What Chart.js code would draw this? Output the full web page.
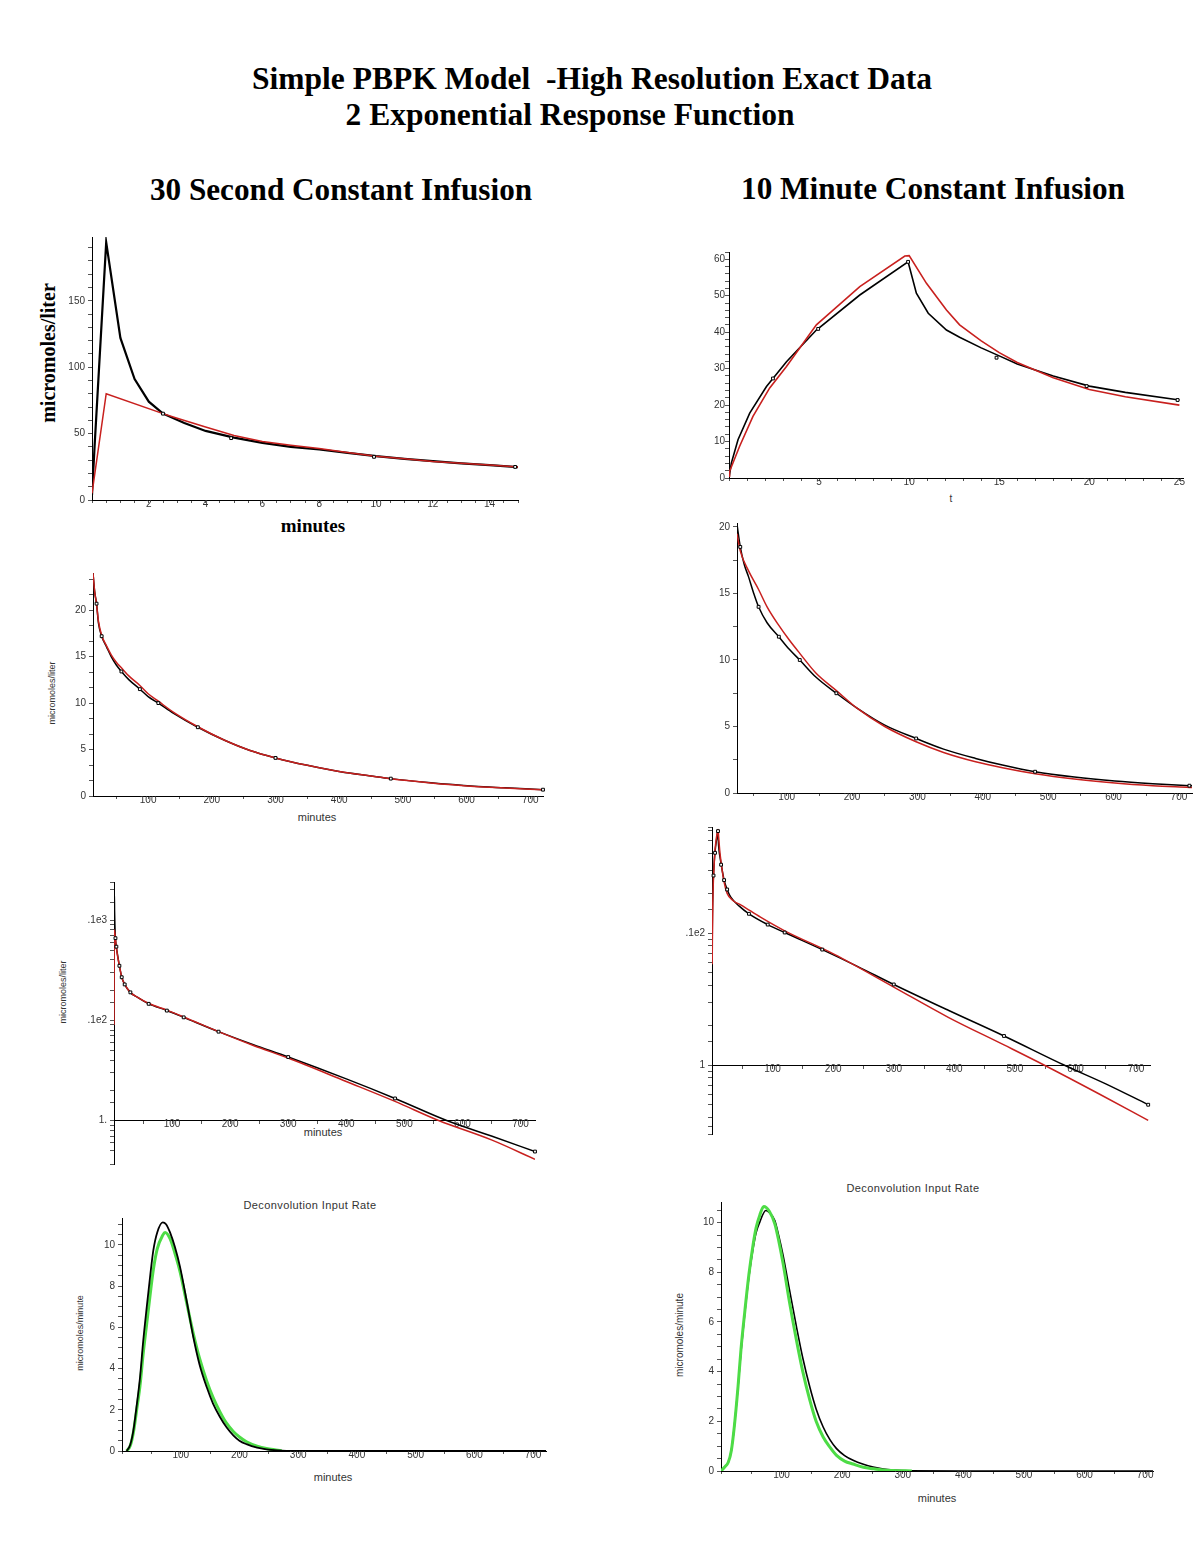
<!DOCTYPE html>
<html><head><meta charset="utf-8">
<script src="https://cdn.jsdelivr.net/npm/chart.js@4/dist/chart.umd.min.js"></script>
<style>
html,body{margin:0;padding:0;background:#fff;width:1197px;height:1549px;overflow:hidden;position:relative;}
.t{position:absolute;white-space:pre;color:#000;font-family:"Liberation Serif","Times New Roman",serif;font-weight:bold;transform:translate(-50%,-50%);line-height:1;}
.s{position:absolute;white-space:pre;color:#333;font-family:"Liberation Sans",Arial,sans-serif;transform:translate(-50%,-50%);line-height:1;}
.r{transform:translate(-50%,-50%) rotate(-90deg);}
canvas{position:absolute;}
</style></head><body>
<div class="t" style="left:592px;top:79px;font-size:31.5px">Simple PBPK Model  -High Resolution Exact Data</div>
<div class="t" style="left:570px;top:115px;font-size:31.5px">2 Exponential Response Function</div>
<div class="t" style="left:341px;top:190px;font-size:31.2px">30 Second Constant Infusion</div>
<div class="t" style="left:933px;top:189px;font-size:31.2px">10 Minute Constant Infusion</div>
<div class="t r" style="left:48px;top:353px;font-size:20px">micromoles/liter</div>
<div class="t" style="left:313px;top:525px;font-size:19px">minutes</div>
<div class="s" style="left:951px;top:499px;font-size:10px">t</div>
<div class="s r" style="left:52px;top:693px;font-size:9px">micromoles/liter</div>
<div class="s" style="left:317px;top:817px;font-size:11px">minutes</div>
<div class="s r" style="left:63px;top:992px;font-size:9px">micromoles/liter</div>
<div class="s" style="left:323px;top:1132px;font-size:11px">minutes</div>
<div class="s" style="left:310px;top:1205px;font-size:11px;letter-spacing:0.4px">Deconvolution Input Rate</div>
<div class="s r" style="left:80px;top:1333px;font-size:9px">micromoles/minute</div>
<div class="s" style="left:333px;top:1477px;font-size:11px">minutes</div>
<div class="s" style="left:913px;top:1188px;font-size:11px;letter-spacing:0.4px">Deconvolution Input Rate</div>
<div class="s r" style="left:680px;top:1335px;font-size:10px">micromoles/minute</div>
<div class="s" style="left:937px;top:1498px;font-size:11px">minutes</div>
<script>
// ---------- DATA ----------
// Panel 1: 30 s infusion, first 15 minutes
const p1BlackT = [0,0.09,0.5,1,1.5,2,2.5,3.25,4,5,6,7,8,9,10,11,12,13,14,15];
const p1BlackV = [3.8,40,194,122,91,74,65,58,52,47,43,40,38,35.5,33,31,29.2,27.6,26.2,24.7];
const p1RedT = [0,0.5,2.5,3,4,5,6,7,8,9,10,11,12,13,14,15];
const p1RedV = [5,80,65,61.5,55,48.5,44,41.2,38.8,35.8,33,31,29,27.6,26.3,24.8];
const p1PtsT = [2.5,4.9,9.93,14.9];
const p1PtsV = [65,46.6,32.5,24.9];
// Panel 2: 10 min infusion, first 25 minutes
const p2BlackT = [0,0.13,0.5,1.15,2.08,3.19,4.85,7.26,9.94,10.4,11.06,12.07,12.8,14,15,16,18,20,22,25];
const p2BlackV = [0,4.1,10.5,17.8,25.1,31.9,40.6,50.2,59.3,50.7,45.2,40.6,38.6,35.7,33.5,31.3,28,25.2,23.5,21.4];
const p2RedT = [0,0.03,0.59,1.33,2.26,3.19,4.85,7.26,9.76,10.0,10.96,12.07,12.8,14,15,16,18,20,22,25];
const p2RedV = [0.5,1.8,8.7,16.9,24.7,30.6,42,52.5,60.9,61,53.4,46.1,42,37.6,34.4,31.7,27.5,24.3,22.3,20];
const p2PtsT = [2.44,4.95,9.94,14.85,19.85,24.9];
const p2PtsV = [27.3,40.9,59.3,33,25.2,21.4];
// Panel 3: 30 s infusion, linear, to 720 min
const p3T = [13.4,16,19,22,27,35,42,50,58,70,87,100,116,140,178,220,260,300,350,402,450,481,540,612,660,720];
const p3BlackV = [24,22,20.7,18.6,17.2,16,15,14.1,13.4,12.5,11.5,10.7,10,8.9,7.4,6.0,4.9,4.1,3.3,2.6,2.15,1.87,1.45,1.05,0.88,0.68];
const p3RedV = [24,22,20.6,18.8,17.3,16.1,15.2,14.4,13.8,12.9,11.9,11.0,10.2,9.0,7.45,6.0,4.9,4.1,3.3,2.6,2.15,1.85,1.43,1.03,0.86,0.66];
const p3PtsT = [19,27,58,87,116,178,300,481,720];
const p3PtsV = [20.7,17.2,13.4,11.5,10,7.4,4.1,1.87,0.68];
// Panel 4: 10 min infusion, linear, to 720 min
const p4BlackT = [24,29,35,41.7,49,57,70,88,104,120,145,176,207,250,298,340,389,430,480,540,602,660,716,720];
const p4BlackV = [20.2,18.5,17.2,16.25,15.1,14.0,12.8,11.75,10.8,10,8.7,7.5,6.4,5.1,4.1,3.3,2.6,2.1,1.6,1.2,0.9,0.7,0.55,0.54];
const p4RedT = [24,29,41.7,57,70,88,104,120,145,176,207,250,298,340,389,430,480,540,602,660,716,720];
const p4RedV = [19.5,18.2,16.7,15.3,14.0,12.6,11.5,10.5,9.0,7.7,6.4,5.0,3.85,3.05,2.35,1.9,1.45,1.05,0.75,0.55,0.42,0.41];
const p4PtsT = [29,57,88,120,176,298,480,716];
const p4PtsV = [18.5,14.0,11.75,10,7.5,4.1,1.6,0.55];
// Panel 5: 30 s infusion, log scale
const p5BlackT = [0.09,0.5,1,1.5,2,2.5,4,6.4,9.3,13.3,18.4,28,40,60,90,120,180,240,300,400,484,573,650,725];
const p5BlackV = [40,194,122,91,74,65,54,44,35,27,22.8,19,17,14.6,12.6,10.7,7.7,5.7,4.3,2.6,1.66,1.0,0.7,0.49];
const p5RedT = [0.05,0.5,2.5,4,6.4,9.3,13.3,18.4,28,40,60,90,120,180,240,300,400,484,559,650,725];
const p5RedV = [9,80,65,53.5,43,35,27,22.8,19,17,14.7,12.7,10.8,7.7,5.6,4.2,2.45,1.55,1.0,0.64,0.41];
const p5PtsT = [2.5,4.1,9.3,13.3,18.4,28.2,59.7,91,120,180,300,484,725];
const p5PtsV = [66,54.3,35,26.9,22.8,19,14.6,12.5,10.7,7.7,4.3,1.66,0.49];
// Panel 6: 10 min infusion, log scale
const p6BlackT = [0.13,0.5,1.15,2.08,3.19,4.85,7.26,9.94,10.4,11.06,12.07,12.8,15,20,25,31,45,61,92,120,182,240,300,390,482,581,650,720];
const p6BlackV = [4.1,10.5,17.8,25.1,31.9,40.6,50.2,59.3,50.7,45.2,40.6,38.6,33.5,25.2,21.4,18.7,16,14,11.6,10.1,7.5,5.6,4.08,2.6,1.66,1.0,0.72,0.5];
const p6RedT = [0.3,0.59,1.33,2.26,3.19,4.85,7.26,9.76,10.0,10.96,12.07,12.8,15,20,25,35,48,80,120,202,300,390,482,548,640,720];
const p6RedV = [5.8,8.7,16.9,24.7,30.6,42,52.5,60.9,61,53.4,46.1,42,34.4,24.3,20,17.6,16.3,13.2,10.4,6.9,3.9,2.3,1.42,1.0,0.6,0.38];
const p6PtsT = [2.5,5,9.94,15,20,25,61,92,120,182,300,482,720];
const p6PtsV = [27.3,40.6,59.3,33,25.2,21.4,14,11.6,10.1,7.5,4.08,1.66,0.5];
// Panel 7: 30 s infusion, deconvolution input rate
const p7BlackT = [8,14,19.4,25,30.8,36,42.2,48,53.4,60,69.4,75,81.8,90,98.8,110,121.4,132,144.2,155,166.8,178,189.5,200,212,230,246,265,280,300,400,500,600,722];
const p7BlackV = [0,0.3,1.0,2.2,3.6,5.3,7.0,8.5,9.74,10.6,11.09,11.0,10.6,9.9,8.93,7.3,5.53,4.2,3.1,2.3,1.65,1.15,0.76,0.5,0.33,0.16,0.08,0.03,0.01,0,0,0,0,0];
const p7GreenT = [8,14,19.4,25,30.8,36,42.2,48,53.4,60,69.4,73.3,81.8,90,98.8,110,121.4,132,144.2,155,166.8,178,189.5,200,212,230,246,262,272];
const p7GreenV = [0,0.25,0.9,2.0,3.2,4.7,6.2,7.6,8.8,9.8,10.47,10.6,10.3,9.6,8.7,7.2,5.7,4.5,3.4,2.6,1.9,1.35,0.95,0.68,0.45,0.24,0.12,0.05,0.01];
// Panel 8: 10 min infusion, deconvolution input rate
const p8BlackT = [0,6.1,12,17.1,22,28.1,33,39.2,46,52.9,58,64,73.9,80,88.8,95,102.5,113,124.6,135,146.6,157,168.6,180,190.7,204,218,235,251,268,284,310,400,500,600,713];
const p8BlackV = [0,0.16,0.35,0.83,1.8,3.38,4.8,6.33,7.8,8.95,9.6,10.02,10.49,10.4,10.08,9.5,8.68,7.3,5.8,4.55,3.38,2.5,1.77,1.25,0.9,0.62,0.43,0.27,0.16,0.08,0.04,0.01,0,0,0,0];
const p8GreenT = [0,6.1,12,17.1,22,28.1,33,39.2,46,52.9,58,64,70.6,80,88.8,95,102.5,113,124.6,135,146.6,157,168.6,180,190.7,204,218,235,251,268,284,315];
const p8GreenV = [0,0.16,0.35,0.83,1.8,3.4,4.9,6.4,7.9,9.1,9.8,10.3,10.65,10.45,9.95,9.3,8.35,6.8,5.26,4.0,2.85,2.0,1.37,0.95,0.63,0.4,0.28,0.15,0.09,0.04,0.02,0];
// Tick labels for the log panels
const p5LogLabels = {0:'1.', 1:'.1e2', 2:'.1e3'};
const p6LogLabels = {0:'1', 1:'.1e2'};

// ---------- helpers ----------
const RED = '#c8201e', BLACK = '#000', GREEN = '#4ddc46';
const TICKFONT = {family:'"Liberation Sans", Arial, sans-serif', size:10};
function pts(t, v){ return t.map((x,i)=>({x:x, y:v[i]})); }
function near(v, m){ return Math.abs(v/m - Math.round(v/m)) < 1e-6; }
function lineDs(t, v, color, w, smooth){
  return {data:pts(t,v), borderColor:color, borderWidth:w, pointRadius:0, fill:false,
    tension:0, cubicInterpolationMode: smooth ? 'monotone' : 'default'};
}
function ptsDs(t, v){
  return {data:pts(t,v), showLine:false, pointStyle:'rect', pointRadius:2, pointBorderWidth:1,
    pointBackgroundColor:'#fff', pointBorderColor:'#000', borderColor:'#000', clip:false};
}
function linAxis(min, max, step, major, showZero, isX, pad){
  return {type:'linear', min:min, max:max, bounds:'ticks',
    grid:{drawOnChartArea:false, drawTicks:true, tickLength:isX?3:4, color:'#555', lineWidth:1},
    border:{display:true, color:'#000', width:1},
    afterBuildTicks:function(s){
      const out = [];
      const k0 = Math.ceil(min/step - 1e-9), k1 = Math.floor(max/step + 1e-9);
      for (let k = k0; k <= k1; k++) out.push({value: Math.round(k*step*1e6)/1e6});
      s.ticks = out;
    },
    ticks:{stepSize:step, autoSkip:false, maxRotation:0, minRotation:0, includeBounds:true, maxTicksLimit:1000,
      font:TICKFONT, color:'#333', padding: pad,
      callback:function(v){ if(!near(v,major)) return ''; if(Math.abs(v)<1e-9 && !showZero) return ''; return String(Math.round(v)); }}
  };
}
function logAxis(min, max, labels){
  return {type:'logarithmic', min:min, max:max,
    grid:{drawOnChartArea:false, drawTicks:true, tickLength:4, color:'#555', lineWidth:1},
    border:{display:true, color:'#000', width:1},
    ticks:{autoSkip:false, font:TICKFONT, color:'#333', padding:3,
      callback:function(v){ const l=Math.log10(v); if(Math.abs(l-Math.round(l))>1e-6) return ''; const s=labels[Math.round(l)]; return s===undefined?'':s; }}
  };
}
function panel(box, xs, ys, datasets, PR){
  const AX=60, PT=12, BX=30; PR = PR===undefined ? 20 : PR;
  const c = document.createElement('canvas');
  const w = box.R - box.L + AX + PR, h = box.B - box.T + PT + BX;
  c.width = w; c.height = h;
  c.style.left = (box.L-AX)+'px'; c.style.top = (box.T-PT)+'px';
  c.style.width = w+'px'; c.style.height = h+'px';
  document.body.appendChild(c);
  xs.afterFit = function(s){ s.height = BX; };
  ys.afterFit = function(s){ s.width = AX; };
  ys.position = 'left';
  new Chart(c, {type:'line', data:{datasets:datasets},
    options:{responsive:false, animation:false, devicePixelRatio:1, events:[],
      layout:{padding:{left:0, top:PT, right:PR, bottom:0}},
      plugins:{legend:{display:false}, tooltip:{enabled:false}, title:{display:false}},
      scales:{x:xs, y:ys}}});
}

// ---------- panels ----------
panel({L:92,T:237,R:518,B:500},
  linAxis(0,15,0.5,2,false,true,-5), linAxis(0,198,10,50,true,false,3),
  [ptsDs(p1PtsT,p1PtsV), lineDs(p1RedT,p1RedV,RED,1.5,false), lineDs(p1BlackT,p1BlackV,BLACK,2.2,false)]);

panel({L:729,T:252,R:1183,B:478},
  linAxis(0,25.2,1,5,false,true,-5), linAxis(0,62,2,10,true,false,0),
  [ptsDs(p2PtsT,p2PtsV), lineDs(p2RedT,p2RedV,RED,1.6,false), lineDs(p2BlackT,p2BlackV,BLACK,1.6,false)], 12);

panel({L:93,T:573,R:543,B:796},
  linAxis(13.4,720,50,100,false,true,-5), linAxis(0,24,5/3,5,true,false,3),
  [ptsDs(p3PtsT,p3PtsV), lineDs(p3T,p3RedV,RED,1.5,true), lineDs(p3T,p3BlackV,BLACK,1.5,true)]);

panel({L:737,T:523,R:1195,B:793},
  linAxis(24,720,50,100,false,true,-5), linAxis(0,20.3,2.5,5,true,false,3),
  [ptsDs(p4PtsT,p4PtsV), lineDs(p4RedT,p4RedV,RED,1.5,true), lineDs(p4BlackT,p4BlackV,BLACK,1.5,true)], 2);

(function(){
  const xs = linAxis(0,725,50,100,false,true,-5); xs.position = {y:1};
  panel({L:114,T:882,R:535,B:1143}, xs, logAxis(0.368,240,p5LogLabels),
    [ptsDs(p5PtsT,p5PtsV), lineDs(p5RedT,p5RedV,RED,1.5,true), lineDs(p5BlackT,p5BlackV,BLACK,1.5,true)]);
})();

(function(){
  const xs = linAxis(0,723,50,100,false,true,-5); xs.position = {y:1};
  panel({L:712,T:827,R:1150,B:1113}, xs, logAxis(0.34,63.7,p6LogLabels),
    [ptsDs(p6PtsT,p6PtsV), lineDs(p6RedT,p6RedV,RED,1.5,true), lineDs(p6BlackT,p6BlackV,BLACK,1.5,true)]);
})();

panel({L:122,T:1218,R:546,B:1451},
  linAxis(0,722,50,100,false,true,-5), linAxis(0,11.3,0.5,2,true,false,3),
  [lineDs(p7BlackT,p7BlackV,BLACK,1.8,true), lineDs(p7GreenT,p7GreenV,GREEN,3,true)]);

panel({L:721,T:1202,R:1153,B:1471},
  linAxis(0,713,50,100,false,true,-5), linAxis(0,10.83,0.5,2,true,false,3),
  [lineDs(p8GreenT,p8GreenV,GREEN,3,true), lineDs(p8BlackT,p8BlackV,BLACK,1.6,true)]);
</script>
</body></html>
